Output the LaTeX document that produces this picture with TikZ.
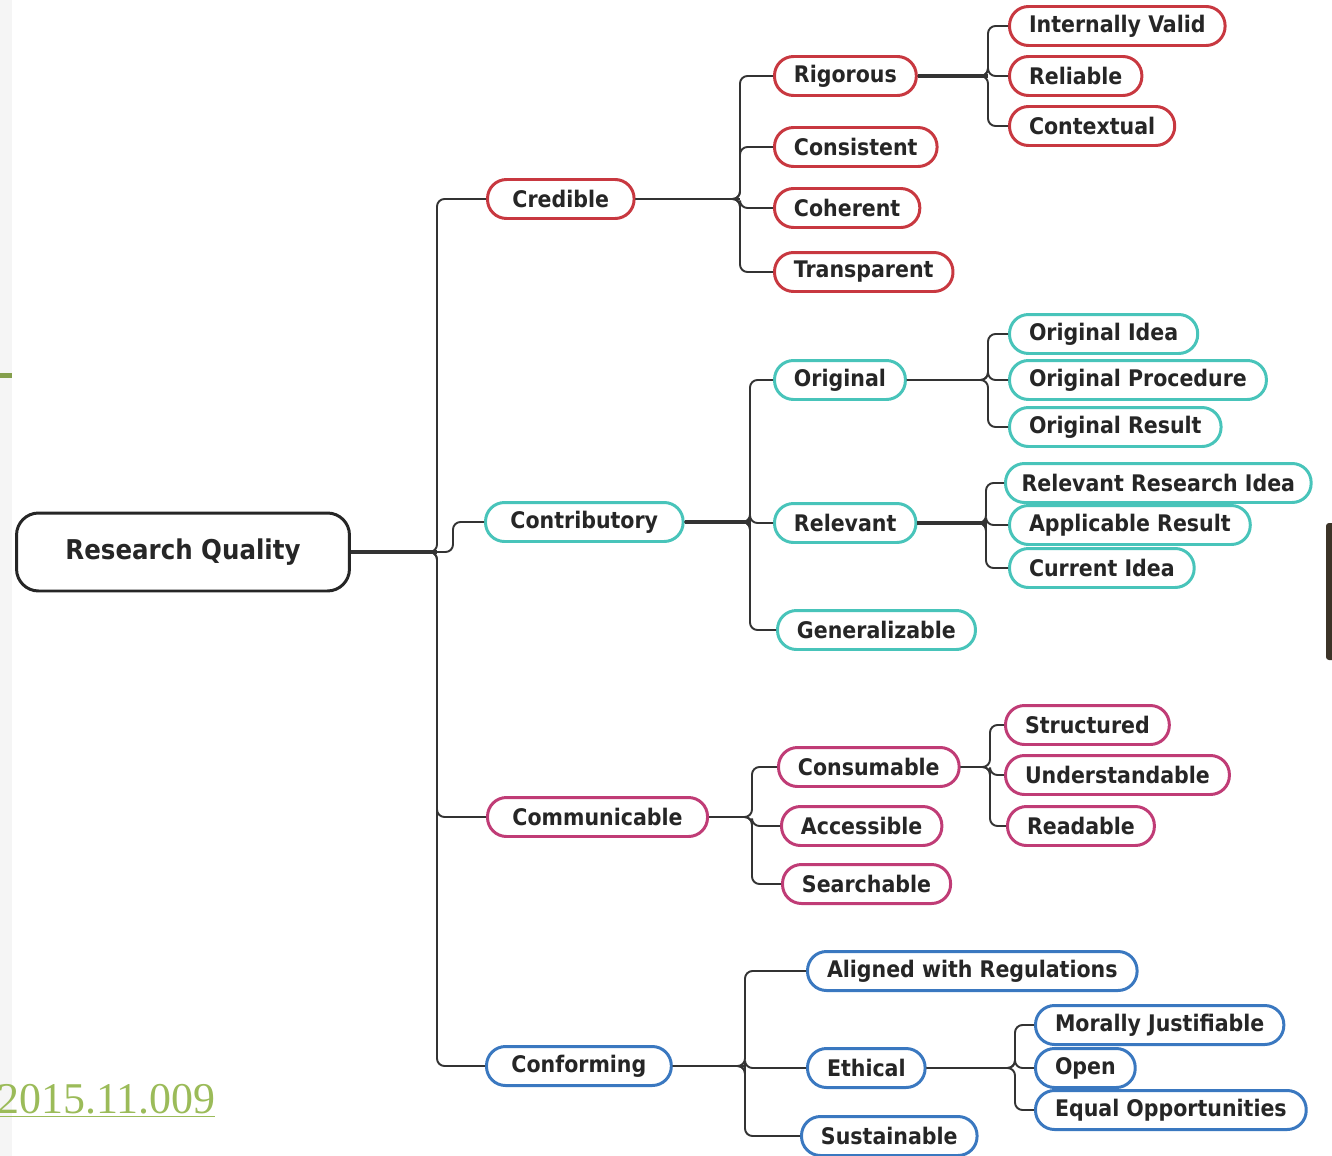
\documentclass[tikz,border=0pt]{standalone}
\usepackage{fontspec}
\usepackage{tikz}
\newfontfamily\mapfont{DejaVu Sans Condensed}
\newfontfamily\doifont{Liberation Serif}
\definecolor{credred}{RGB}{200,56,64}
\definecolor{contteal}{RGB}{72,196,186}
\definecolor{commpink}{RGB}{192,60,118}
\definecolor{confblue}{RGB}{58,120,192}
\definecolor{doigreen}{RGB}{155,187,89}
\definecolor{barbrown}{RGB}{60,52,40}

\begin{document}
\begin{tikzpicture}[x=0.02cm, y=-0.02cm,
    root/.style={draw=black!85, line width=1.7pt, rounded corners=0.44cm, fill=white,
        minimum width=6.66cm, minimum height=1.56cm, text=black!85,
        font=\mapfont\bfseries\fontsize{15.5}{18}\selectfont},
    leaf/.style={draw=#1, line width=1.7pt, rounded corners=0.38cm, fill=white,
        minimum height=0.78cm, inner xsep=0.39cm, inner ysep=0pt, anchor=west, text=black!85,
        font=\mapfont\bfseries\fontsize{13}{15}\selectfont},
    topic/.style={leaf=#1, inner xsep=0.5cm},
    branch/.style={draw=black!80, line width=1.1pt, rounded corners=0.15cm},
    heavy/.style={branch, line width=2.4pt}]
    \useasboundingbox (0,0) rectangle (1332,1156);
    \fill[black!4] (0,0) rectangle (12,1156);
    \fill[doigreen!85!black] (0,373) rectangle (12,378);
    \fill[barbrown, rounded corners=0.06cm] (1326,523) rectangle (1336,660);
    \node[anchor=base west, inner sep=0pt, text=doigreen, font=\doifont\fontsize{25}{28}\selectfont] (doi) at (-3,1113) {\underline{2015.11.009}};

    \node[root] (rq) at (183,552) {Research Quality};

    \node[topic=credred] (cred) at (486,199) {Credible};
    \node[topic=contteal] (contrib) at (484,522) {Contributory};
    \node[topic=commpink] (comm) at (486,817) {Communicable};
    \node[topic=confblue] (conf) at (485,1066) {Conforming};

    \node[leaf=credred] (rigo) at (773,76) {Rigorous};
    \node[leaf=credred] (cons) at (773,147) {Consistent};
    \node[leaf=credred] (cohe) at (773,208) {Coherent};
    \node[leaf=credred] (tran) at (773,272) {Transparent};
    \node[leaf=credred] (intv) at (1008,26) {Internally Valid};
    \node[leaf=credred] (reli) at (1008,76) {Reliable};
    \node[leaf=credred] (ctxt) at (1008,126) {Contextual};

    \node[leaf=contteal] (orig) at (773,380) {Original};
    \node[leaf=contteal] (rele) at (773,523) {Relevant};
    \node[leaf=contteal] (gene) at (776,630) {Generalizable};
    \node[leaf=contteal] (oidea) at (1008,334) {Original Idea};
    \node[leaf=contteal] (oproc) at (1008,380) {Original Procedure};
    \node[leaf=contteal] (ores) at (1008,427) {Original Result};
    \node[leaf=contteal, inner xsep=0.32cm] (rrid) at (1004,483) {Relevant Research Idea};
    \node[leaf=contteal] (appr) at (1008,525) {Applicable Result};
    \node[leaf=contteal] (curr) at (1008,568) {Current Idea};

    \node[leaf=commpink] (consu) at (777,767) {Consumable};
    \node[leaf=commpink] (acce) at (780,826) {Accessible};
    \node[leaf=commpink] (sear) at (781,884) {Searchable};
    \node[leaf=commpink] (stru) at (1004,725) {Structured};
    \node[leaf=commpink] (unde) at (1004,775) {Understandable};
    \node[leaf=commpink] (read) at (1006,826) {Readable};

    \node[leaf=confblue] (alig) at (806,971) {Aligned with Regulations};
    \node[leaf=confblue] (ethi) at (806,1068) {Ethical};
    \node[leaf=confblue] (sust) at (800,1136) {Sustainable};
    \node[leaf=confblue] (mora) at (1034,1025) {Morally Justifiable};
    \node[leaf=confblue] (open) at (1034,1068) {Open};
    \node[leaf=confblue] (equa) at (1034,1110) {Equal Opportunities};

    \coordinate (xrq) at (437,0);
    \coordinate (xcred) at (740,0);
    \coordinate (xrigo) at (988,0);
    \coordinate (xcontrib) at (750,0);
    \coordinate (xorig) at (988,0);
    \coordinate (xrele) at (986,0);
    \coordinate (xcomm) at (752,0);
    \coordinate (xconsu) at (990,0);
    \coordinate (xconf) at (745,0);
    \coordinate (xethi) at (1015,0);

    \draw[heavy] (rq.east) -- (rq.east -| xrq);
    \foreach \c in {cred,comm,conf}
        \draw[branch] (rq.east) -- (rq.east -| xrq) |- (\c.west);
    \draw[branch] (rq.east) -- (rq.east -| xrq) -- ++(16,0) |- (contrib.west);

    \draw[heavy, line width=1.6pt] (cred.east) -- (cred.east -| xcred);
    \foreach \c in {rigo,cons,cohe,tran}
        \draw[branch] (cred.east) -- (cred.east -| xcred) |- (\c.west);
    \draw[heavy] (rigo.east) -- (rigo.east -| xrigo);
    \foreach \c in {intv,reli,ctxt}
        \draw[branch] (rigo.east) -- (rigo.east -| xrigo) |- (\c.west);

    \draw[heavy] (contrib.east) -- (contrib.east -| xcontrib);
    \foreach \c in {orig,rele,gene}
        \draw[branch] (contrib.east) -- (contrib.east -| xcontrib) |- (\c.west);
    \foreach \c in {oidea,oproc,ores}
        \draw[branch] (orig.east) -- (orig.east -| xorig) |- (\c.west);
    \draw[heavy] (rele.east) -- (rele.east -| xrele);
    \foreach \c in {rrid,appr,curr}
        \draw[branch] (rele.east) -- (rele.east -| xrele) |- (\c.west);

    \foreach \c in {consu,acce,sear}
        \draw[branch] (comm.east) -- (comm.east -| xcomm) |- (\c.west);
    \foreach \c in {stru,unde,read}
        \draw[branch] (consu.east) -- (consu.east -| xconsu) |- (\c.west);

    \draw[heavy, line width=1.6pt] (conf.east) -- (conf.east -| xconf);
    \foreach \c in {alig,ethi,sust}
        \draw[branch] (conf.east) -- (conf.east -| xconf) |- (\c.west);
    \foreach \c in {mora,open,equa}
        \draw[branch] (ethi.east) -- (ethi.east -| xethi) |- (\c.west);
\end{tikzpicture}
\end{document}
